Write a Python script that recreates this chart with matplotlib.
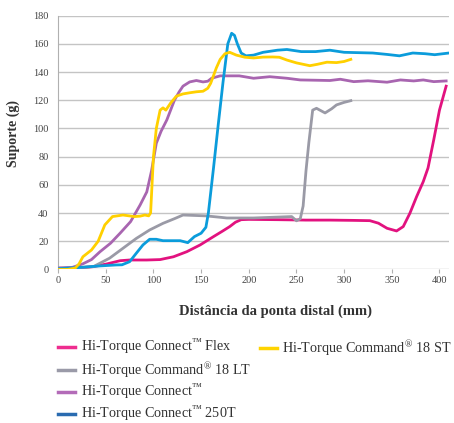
import numpy as np
import matplotlib
matplotlib.use("Agg")
import matplotlib.pyplot as plt
from matplotlib.lines import Line2D

plt.rcParams['font.family'] = ['Liberation Serif', 'DejaVu Serif']
plt.rcParams['mathtext.fontset'] = 'custom'
plt.rcParams['mathtext.rm'] = 'Liberation Serif'
plt.rcParams['mathtext.it'] = 'Liberation Serif'
plt.rcParams['mathtext.default'] = 'rm'

# Hi-Torque Connect Flex (magenta)
flex_x = [0, 20, 37, 51, 65, 75, 93, 107, 121, 135, 149, 163, 172, 180, 186, 192, 200,
          230, 260, 285, 310, 327, 336, 345, 355, 362, 369, 376, 383, 388, 394, 400, 407]
flex_y = [0.6, 1, 2, 3.9, 6.2, 6.7, 6.7, 7, 9, 12.6, 17.4, 23.3, 27, 30.4, 33.5, 35.3, 35.5,
          35.3, 35, 35, 34.8, 34.6, 32.8, 29.2, 27.3, 30.4, 39.9, 51.6, 62.3, 72, 92, 113, 130]

# Hi-Torque Command 18 LT (gray)
lt_x = [0, 20, 37, 54, 68, 82, 96, 110, 122, 131, 155, 170, 177, 205, 245, 250, 254,
        257, 260, 263, 267, 271, 280, 287, 292, 300, 307]
lt_y = [1, 1.2, 2, 8, 15, 22, 28, 32.7, 36, 38.6, 38, 37, 36.5, 36.5, 37.5, 34.5, 36,
        45, 70, 90, 113, 114.3, 111, 114, 116.7, 118.5, 119.7]

# Hi-Torque Command 18 ST (yellow)
st_x = [0, 10, 18, 22, 26, 35, 42, 49, 57, 68, 80, 86, 91, 95, 97, 100, 103, 107, 110,
        113, 118, 124, 131, 138, 145, 152, 157, 160, 166, 170, 175, 180, 187, 196, 205,
        215, 225, 232, 240, 250, 264, 272, 282, 292, 300, 307]
st_y = [0, 0, 1, 4, 9, 13.8, 20, 31.6, 37.5, 38.6, 37.5, 37.8, 38.6, 38, 40, 80, 100, 113, 114.6,
        113, 118, 122.9, 124.5, 125.3, 126, 126.4, 128.5, 132, 143, 149, 153, 154, 152, 150.5, 150,
        150.6, 150.7, 150.5, 148.5, 146.5, 144.5, 145.5, 147, 146.7, 147.5, 149]

# Hi-Torque Connect (purple)
con_x = [0, 15, 26, 35, 44, 55, 65, 76, 86, 93, 98, 103, 108, 114, 122, 127, 131, 138,
         145, 152, 157, 161, 170, 190, 205, 222, 240, 254, 270, 285, 296, 310, 325, 345,
         359, 373, 383, 394, 407]
con_y = [1, 1.5, 4, 7, 12.6, 18.6, 25.7, 33.9, 45.7, 55, 70, 89.5, 98, 106, 120, 126, 130, 133,
         134, 133, 133.5, 135.6, 137.3, 137.3, 135.6, 136.7, 135.6, 134.4, 134.2, 134, 134.9, 133.2,
         133.8, 132.8, 134.4, 133.7, 134.4, 133.2, 133.7]

# Hi-Torque Connect 250T (blue)
t250_x = [0, 26, 44, 61, 67, 75, 82, 89, 96, 103, 110, 128, 136, 143, 150, 155, 157.6,
          163, 168, 173, 178, 182, 185, 188, 192, 197, 205, 215, 230, 240, 255, 270, 285,
          300, 330, 345, 358, 372, 385, 395, 410]
t250_y = [0.5, 1.6, 2.5, 3.2, 3.3, 5.5, 11.5, 17.4, 21.4, 21.4, 20.4, 20.4, 19, 23.3, 25.7, 29.9, 40,
          72, 103, 133, 160, 167.5, 166, 160, 153.5, 151.5, 152, 154, 155.5, 156, 154.5, 154.5, 155.5,
          154, 153.5, 152.5, 151.5, 153.5, 153, 152.3, 153.5]

fig = plt.figure(figsize=(4.54, 4.23), dpi=100)
ax = fig.add_axes([0.128, 0.363, 0.861, 0.600])

lw = 2.0
ax.plot(flex_x, flex_y, color='#e2127f', lw=lw, zorder=3)
ax.plot(lt_x, lt_y, color='#9a9aa6', lw=lw, zorder=3)
ax.plot(con_x, con_y, color='#a865b0', lw=lw, zorder=3)
ax.plot(t250_x, t250_y, color='#0b9cdb', lw=lw, zorder=4)
ax.plot(st_x, st_y, color='#ffd000', lw=lw, zorder=5)

ax.set_xlim(0, 410)
ax.set_ylim(0, 180)
ax.set_xticks(np.arange(0, 401, 50))
ax.set_yticks(np.arange(0, 181, 20))
ax.grid(axis='y', color='#c4c4c4', lw=1)
ax.set_axisbelow(True)
for s in ['top', 'right', 'bottom']:
    ax.spines[s].set_visible(False)
ax.spines['left'].set_color('#b0b0b0')
ax.tick_params(axis='x', length=3, color='#b0b0b0', labelsize=7.5, labelcolor='#444444', pad=2)
ax.tick_params(axis='y', length=0, labelsize=7.5, labelcolor='#444444', pad=7)

ax.set_ylabel('Suporte (g)', fontsize=10, fontweight='bold', color='#333333')
ax.yaxis.set_label_coords(-0.097, 0.535)
ax.set_xlabel('Distância da ponta distal (mm)', fontsize=10.5, fontweight='bold', color='#333333')
ax.xaxis.set_label_coords(0.555, -0.14)

tm = r'$^{\mathregular{™}}$'
rg = r'$^{\mathregular{®}}$'
h1 = [Line2D([], [], color='#ee2d8f', lw=2.5),
      Line2D([], [], color='#9a9aa8', lw=2.5),
      Line2D([], [], color='#b36bb8', lw=2.5),
      Line2D([], [], color='#2a6bb0', lw=2.5)]
l1 = ['Hi-Torque Connect' + tm + ' Flex', 'Hi-Torque Command' + rg + ' 18 LT',
      'Hi-Torque Connect' + tm, 'Hi-Torque Connect' + tm + ' 250T']
leg1 = fig.legend(h1, l1, loc='upper left', bbox_to_anchor=(0.128, 0.201), frameon=False,
                  fontsize=10.2, handlelength=1.2, handletextpad=0.4, labelspacing=0.2,
                  borderaxespad=0, borderpad=0, labelcolor='#333333')
leg2 = fig.legend([Line2D([], [], color='#ffd400', lw=2.5)], ['Hi-Torque Command' + rg + ' 18 ST'],
                  loc='upper left', bbox_to_anchor=(0.572, 0.201), frameon=False,
                  fontsize=10.2, handlelength=1.2, handletextpad=0.4,
                  borderaxespad=0, borderpad=0, labelcolor='#333333')

fig.savefig('out.png', dpi=100)
